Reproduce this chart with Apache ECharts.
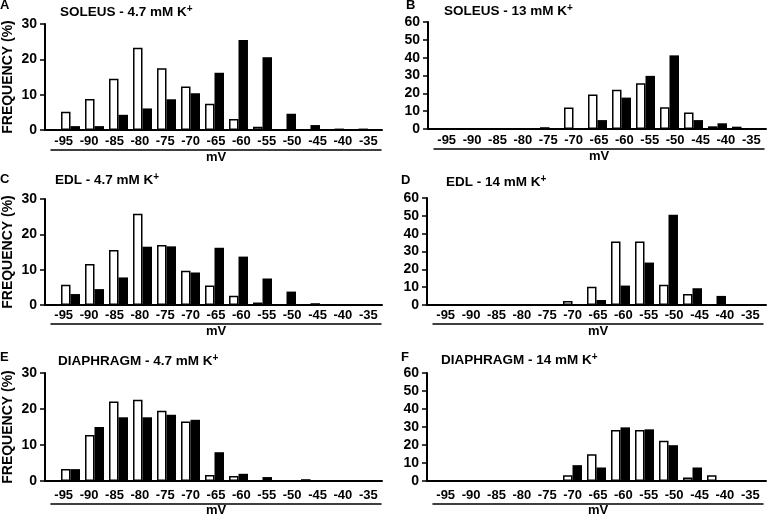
<!DOCTYPE html>
<html>
<head>
<meta charset="utf-8">
<script src="https://cdn.jsdelivr.net/npm/echarts@6/dist/echarts.min.js"></script>
<style>html,body{margin:0;padding:0;background:#fff}#c{width:768px;height:516px}</style>
</head>
<body>
<div id="c"></div>
<script>
// ---- data ----
const categories = ['-95','-90','-85','-80','-75','-70','-65','-60','-55','-50','-45','-40','-35'];
const soleus47White = [5.2, 8.8, 14.5, 23.3, 17.5, 12.3, 7.4, 3.1, 0.9, 0, 0, 0, 0];
const soleus47Black = [1.1, 1.1, 4.3, 6.1, 8.7, 10.4, 16.2, 25.5, 20.6, 4.6, 1.4, 0.4, 0.4];
const soleus13White = [0, 0, 0, 0, 1, 12, 19.3, 22, 25.7, 12.2, 9.2, 1.5, 1.3];
const soleus13Black = [0, 0, 0, 0, 0, 0, 5, 17.6, 29.8, 41.3, 5, 3.2, 0];
const edl47White = [5.7, 11.6, 15.6, 25.8, 17, 9.7, 5.5, 2.6, 0.7, 0, 0, 0, 0];
const edl47Black = [3.1, 4.5, 7.8, 16.5, 16.6, 9.2, 16.2, 13.7, 7.5, 3.8, 0.5, 0, 0];
const edl14White = [0, 0, 0, 0, 0, 2.2, 10.3, 35.6, 35.6, 11.3, 6.2, 0, 0];
const edl14Black = [0, 0, 0, 0, 0, 0, 2.8, 10.9, 23.8, 50.6, 9.4, 5.1, 0];
const dia47White = [3.3, 12.8, 22.1, 22.6, 19.5, 16.5, 1.7, 1.4, 0, 0, 0.5, 0, 0];
const dia47Black = [3.3, 15, 17.7, 17.7, 18.4, 17, 8, 2, 1.1, 0, 0, 0, 0];
const dia14White = [0, 0, 0, 0, 0, 3.2, 14.9, 28.3, 28.3, 22.3, 1.9, 3.2, 0];
const dia14Black = [0, 0, 0, 0, 0, 8.8, 7.5, 29.8, 28.7, 19.9, 7.5, 0, 0];
const yName = 'FREQUENCY (%)';
const xName = 'mV';

// ---- layout ----
const FONT = '"Liberation Sans", Arial, Helvetica, sans-serif';
const panels = [
  {letter:'A', title:'SOLEUS - 4.7 mM K', white:soleus47White, black:soleus47Black, max:30, ox:0,   oy:0,   axisX:45, yTop:24, yZero:130, under:149, tX:60,  tY:4,   lY:-1,  lX:0,   name:true},
  {letter:'B', title:'SOLEUS - 13 mM K',  white:soleus13White, black:soleus13Black, max:60, ox:384, oy:0,   axisX:44, yTop:22, yZero:129, under:148, tX:444, tY:3,   lY:-1,  lX:406, name:false},
  {letter:'C', title:'EDL - 4.7 mM K',    white:edl47White,    black:edl47Black,    max:30, ox:0,   oy:170, axisX:45, yTop:29, yZero:135, under:153, tX:55,  tY:172, lY:173, lX:0,   name:true},
  {letter:'D', title:'EDL - 14 mM K',     white:edl14White,    black:edl14Black,    max:60, ox:384, oy:170, axisX:43, yTop:28, yZero:135, under:153, tX:446, tY:174, lY:174, lX:401, name:false},
  {letter:'E', title:'DIAPHRAGM - 4.7 mM K', white:dia47White, black:dia47Black,    max:30, ox:0,   oy:340, axisX:45, yTop:33, yZero:141, under:163, tX:58,  tY:353, lY:351, lX:0,   name:true},
  {letter:'F', title:'DIAPHRAGM - 14 mM K',  white:dia14White, black:dia14Black,    max:60, ox:384, oy:340, axisX:43, yTop:33, yZero:141, under:163, tX:441, tY:352, lY:351, lX:401, name:false}
];

const grid = [], xAxis = [], yAxis = [], series = [], title = [];
panels.forEach((p, i) => {
  const top = p.oy + p.yTop, h = p.yZero - p.yTop;
  // frame grid (axes lines + y ticks)
  grid.push({left: p.ox + p.axisX, top: top, width: 382 - p.axisX, height: h});
  // bars grid
  grid.push({left: p.ox + p.axisX + 13.5, top: top, width: 312, height: h});
  // label grid (underlined tick labels + mV)
  grid.push({left: p.ox + p.axisX + 6, top: p.oy + p.under, width: 330, height: 1});

  xAxis.push({gridIndex: 3*i, type: 'value', min: 0, max: 1, axisLine: {show: true, onZero: false, lineStyle: {color: '#000', width: 2}},
    axisTick: {show: false}, axisLabel: {show: false}, splitLine: {show: false}});
  xAxis.push({gridIndex: 3*i+1, type: 'category', data: categories, show: false});
  xAxis.push({gridIndex: 3*i+2, type: 'category', data: categories, position: 'top',
    axisLine: {show: true, lineStyle: {color: '#000', width: 1.5}}, axisTick: {show: false},
    axisLabel: {interval: 0, margin: 1, color: '#000', fontWeight: 'bold', fontSize: 13, fontFamily: FONT}});
  xAxis.push({gridIndex: 3*i+2, type: 'category', data: categories, position: 'bottom',
    axisLine: {show: false}, axisTick: {show: false}, axisLabel: {show: false},
    name: xName, nameLocation: 'middle', nameGap: 1,
    nameTextStyle: {color: '#000', fontWeight: 'bold', fontSize: 13, fontFamily: FONT}});

  const yA = {gridIndex: 3*i, type: 'value', min: 0, max: p.max, interval: 10,
    axisLine: {show: true, lineStyle: {color: '#000', width: 2}},
    axisTick: {show: true, length: 5, lineStyle: {color: '#000', width: 1.5}},
    axisLabel: {color: '#000', fontWeight: 'bold', fontSize: 14, fontFamily: FONT, margin: 8},
    splitLine: {show: false}};
  if (p.name) {
    yA.name = yName; yA.nameLocation = 'middle'; yA.nameGap = 30;
    yA.nameTextStyle = {color: '#000', fontWeight: 'bold', fontSize: 14, fontFamily: FONT};
  }
  yAxis.push(yA);
  yAxis.push({gridIndex: 3*i+1, type: 'value', min: 0, max: p.max, show: false});
  yAxis.push({gridIndex: 3*i+2, type: 'value', show: false});

  series.push({type: 'bar', xAxisIndex: 4*i+1, yAxisIndex: 3*i+1, data: p.white,
    barGap: '0%', barCategoryGap: '21%', silent: true,
    itemStyle: {color: '#fff', borderColor: '#000', borderWidth: 1.5}});
  series.push({type: 'bar', xAxisIndex: 4*i+1, yAxisIndex: 3*i+1, data: p.black,
    barGap: '0%', barCategoryGap: '21%', silent: true,
    itemStyle: {color: '#000'}});

  title.push({text: p.letter, left: p.lX, top: p.lY, padding: 0,
    textStyle: {color: '#000', fontWeight: 'bold', fontSize: 13, fontFamily: FONT}});
  title.push({text: p.title + '{sup|+}', left: p.tX, top: p.tY, padding: 0,
    textStyle: {color: '#000', fontWeight: 'bold', fontSize: 13.5, fontFamily: FONT, lineHeight: 17,
      rich: {sup: {color: '#000', fontWeight: 'bold', fontSize: 10, fontFamily: FONT, verticalAlign: 'top', lineHeight: 17}}}});
});

const chart = echarts.init(document.getElementById('c'), null, {renderer: 'canvas'});
chart.setOption({animation: false, backgroundColor: '#fff', title, grid, xAxis, yAxis, series});
</script>
</body>
</html>
